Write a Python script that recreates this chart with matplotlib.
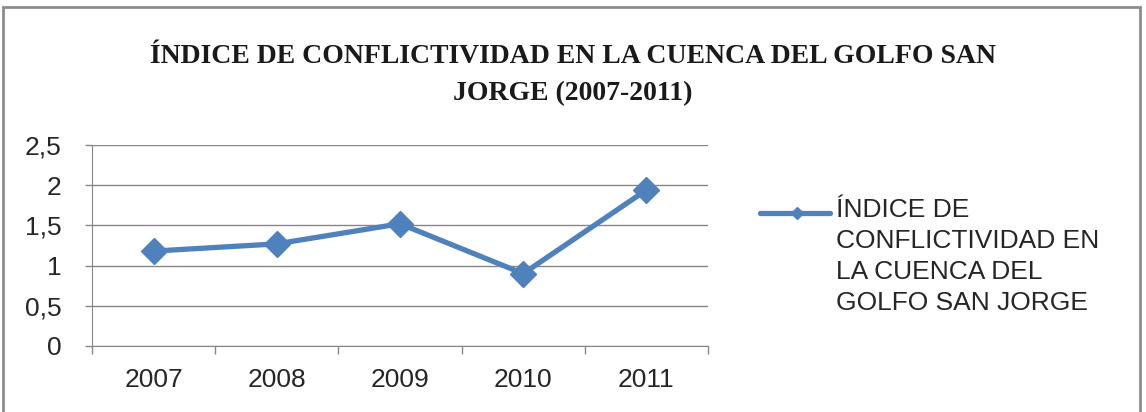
import matplotlib.pyplot as plt
from matplotlib.lines import Line2D
from matplotlib.patches import Rectangle
from matplotlib.ticker import FuncFormatter

years = ['2007', '2008', '2009', '2010', '2011']
indice = [1.18, 1.27, 1.52, 0.90, 1.94]
y_ticks = [0, 0.5, 1, 1.5, 2, 2.5]
serie = 'ÍNDICE DE\nCONFLICTIVIDAD EN\nLA CUENCA DEL\nGOLFO SAN JORGE'
titulo = 'ÍNDICE DE CONFLICTIVIDAD EN LA CUENCA DEL GOLFO SAN\nJORGE (2007-2011)'

azul = '#4F81BD'
gris = '#868686'

plt.rcParams['font.family'] = ['Liberation Sans', 'DejaVu Sans']

fig = plt.figure(figsize=(11.46, 4.12), dpi=100)
ax = fig.add_axes([0.0803, 0.1602, 0.5375, 0.488])

x = range(len(years))
ax.plot(x, indice, color=azul, lw=3.8, marker='D', ms=13.5, mec=azul, mfc=azul)

ax.set_xlim(-0.5, len(years) - 0.5)
ax.set_ylim(0, 2.5)
ax.set_yticks(y_ticks)
ax.yaxis.set_major_formatter(FuncFormatter(lambda v, p: ('%g' % v).replace('.', ',')))
ax.set_xticks(x)
ax.set_xticklabels(years)
ax.set_xticks([i - 0.5 for i in range(len(years) + 1)], minor=True)
ax.tick_params(axis='x', which='major', length=0, pad=16, labelsize=19, labelcolor='#262626')
ax.tick_params(axis='x', which='minor', length=6, color=gris, width=1)
ax.tick_params(axis='y', length=5, color=gris, width=1, pad=17, labelsize=19, labelcolor='#262626')
ax.grid(axis='y', color=gris, lw=1)
ax.set_axisbelow(True)
for s in ['top', 'right']:
    ax.spines[s].set_visible(False)
ax.spines['left'].set_color(gris)
ax.spines['bottom'].set_color(gris)

fig.text(0.5, 0.818, titulo, ha='center', va='center', fontsize=20,
         fontweight='bold', family='Liberation Serif', linespacing=1.6, color='#1a1a1a')

# leyenda a mano: la linea queda alineada con la primera fila del texto
y_leg = 1 - 213 / 412
fig.add_artist(Line2D([760 / 1146, 830 / 1146], [y_leg, y_leg], transform=fig.transFigure,
                      color=azul, lw=3.8, solid_capstyle='round'))
fig.add_artist(Line2D([797 / 1146], [y_leg], transform=fig.transFigure,
                      color=azul, marker='D', ms=6.5, mec=azul, mfc=azul))
fig.text(836 / 1146, y_leg + 15 / 412, serie, ha='left', va='top', fontsize=19,
         color='#262626', linespacing=1.36)

fig.add_artist(Rectangle((3 / 1146, -0.05), 1137 / 1146, 1.05 - 7 / 412,
                         transform=fig.transFigure, fill=False,
                         ec='#8c8c8c', lw=2))

fig.savefig('out.png', dpi=100)
